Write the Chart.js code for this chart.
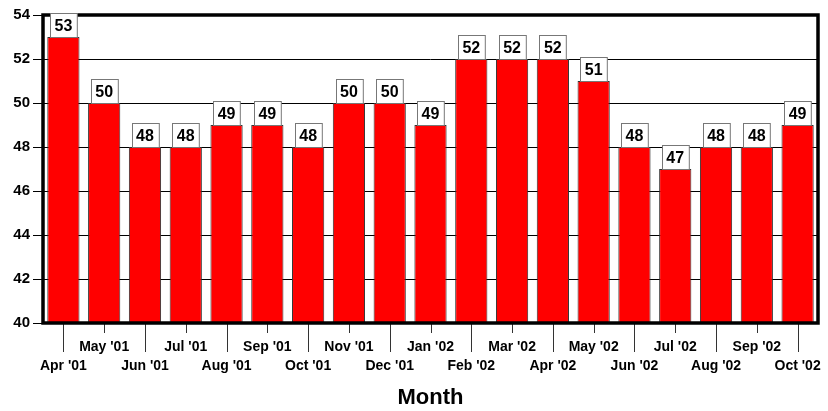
<!DOCTYPE html>
<html>
<head>
<meta charset="utf-8">
<script src="https://cdn.jsdelivr.net/npm/chart.js@4"></script>
<style>
  html, body { margin: 0; padding: 0; background: #fff; }
  #wrap { width: 828px; height: 411px; position: relative; }
</style>
</head>
<body>
<div id="wrap"><canvas id="chart"></canvas></div>
<script>
const months = ["Apr '01", "May '01", "Jun '01", "Jul '01", "Aug '01", "Sep '01", "Oct '01",
  "Nov '01", "Dec '01", "Jan '02", "Feb '02", "Mar '02", "Apr '02", "May '02", "Jun '02",
  "Jul '02", "Aug '02", "Sep '02", "Oct '02"];
const counts = [53, 50, 48, 48, 49, 49, 48, 50, 50, 49, 52, 52, 52, 51, 48, 47, 48, 48, 49];
const yTicks = [40, 42, 44, 46, 48, 50, 52, 54];

const FONT = '"Liberation Sans", Arial, sans-serif';

// value boxes above bars, staggered x ticks, heavy frame
const decor = {
  id: 'decor',
  afterDraw(chart) {
    const ctx = chart.ctx;
    const area = chart.chartArea;
    const x = chart.scales.x;

    ctx.save();
    // x tick marks, long for every other month
    ctx.strokeStyle = '#333';
    ctx.lineWidth = 1;
    months.forEach((m, i) => {
      const px = Math.round(x.getPixelForValue(i)) + 0.5;
      ctx.beginPath();
      ctx.moveTo(px, area.bottom);
      ctx.lineTo(px, area.bottom + (i % 2 === 0 ? 29 : 10));
      ctx.stroke();
    });

    // frame
    ctx.strokeStyle = '#000';
    ctx.lineWidth = 3.5;
    ctx.strokeRect(area.left, area.top, area.right - area.left, area.bottom - area.top);

    // value boxes
    ctx.font = 'bold 16px ' + FONT;
    ctx.textAlign = 'center';
    ctx.textBaseline = 'middle';
    const meta = chart.getDatasetMeta(0);
    meta.data.forEach((bar, i) => {
      const txt = String(counts[i]);
      const w = ctx.measureText(txt).width + 9;
      const h = 24;
      const bx = Math.round(bar.x - w / 2) + 0.5;
      const by = Math.round(bar.y - h) + 0.5;
      ctx.fillStyle = '#fff';
      ctx.fillRect(bx, by, w, h);
      ctx.strokeStyle = '#777';
      ctx.lineWidth = 1;
      ctx.strokeRect(bx, by, w, h);
      ctx.fillStyle = '#000';
      ctx.fillText(txt, bar.x, by + h / 2 + 1);
    });
    ctx.restore();
  }
};

new Chart(document.getElementById('chart'), {
  type: 'bar',
  data: {
    labels: months,
    datasets: [{
      data: counts,
      backgroundColor: '#ff0000',
      borderColor: '#333',
      borderWidth: 1,
      barPercentage: 0.79,
      categoryPercentage: 1
    }]
  },
  options: {
    responsive: true,
    maintainAspectRatio: false,
    animation: false,
    layout: { padding: { top: 15, right: 10, left: 0, bottom: 0 } },
    plugins: {
      legend: { display: false },
      tooltip: { enabled: false }
    },
    scales: {
      x: {
        afterFit: s => { s.height = 88; s.paddingLeft = 0; s.paddingRight = 0; },
        grid: { display: false, drawTicks: false },
        border: { display: false },
        ticks: {
          autoSkip: false,
          maxRotation: 0,
          padding: 15,
          color: '#000',
          font: { family: FONT, size: 14, weight: 'bold', lineHeight: 1.35 },
          callback: function (v, i) {
            const lbl = this.getLabelForValue(v);
            return i % 2 === 0 ? ['', lbl] : lbl;
          }
        },
        title: {
          display: true,
          text: 'Month',
          color: '#000',
          font: { family: FONT, size: 22, weight: 'bold' },
          padding: { top: 0, bottom: 0 }
        }
      },
      y: {
        min: 40,
        max: 54,
        afterFit: s => { s.width = 43; s.paddingTop = 0; s.paddingBottom = 0; },
        afterBuildTicks: s => { s.ticks = yTicks.map(v => ({ value: v })); },
        grid: { color: '#000', lineWidth: 1, tickLength: 10, tickColor: '#000' },
        border: { display: false },
        ticks: {
          padding: 3,
          color: '#000',
          font: { family: FONT, size: 15, weight: 'bold' }
        }
      }
    }
  },
  plugins: [decor]
});
</script>
</body>
</html>
